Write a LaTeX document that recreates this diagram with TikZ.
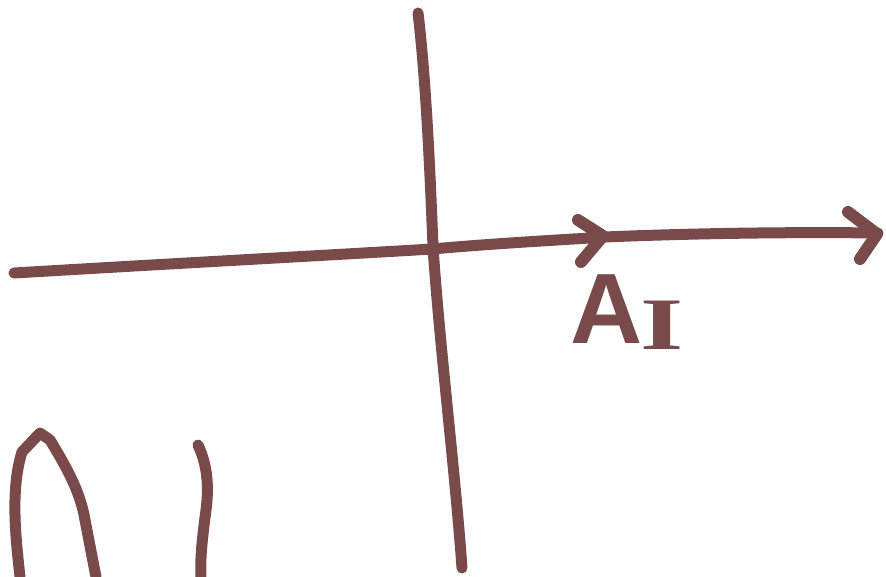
\documentclass[tikz,border=0pt]{standalone}
\usepackage{fontspec}
\setmainfont{Liberation Sans}
\newfontfamily\serifI{Liberation Serif}
\definecolor{ink}{RGB}{122,74,74}
\begin{document}
\begin{tikzpicture}[x=1pt,y=-1pt,
  stroke/.style={draw=ink,line width=11pt,line cap=round,line join=round},
  chevron/.style={draw=ink,line width=12pt,line cap=round,line join=round}]
\useasboundingbox (0,0) rectangle (886,577);
% horizontal axis
\draw[stroke] (14,273) .. controls (200,262) and (350,254) .. (432,249)
  .. controls (500,243) and (560,240) .. (605,237)
  .. controls (700,233) and (800,232) .. (878,233);
% arrowheads
\draw[chevron] (578,220) -- (603,236) -- (581,262);
\draw[chevron] (848,212) -- (877,234) -- (860,259);
% vertical axis
\draw[stroke] (418,13) .. controls (426,80) and (430,170) .. (433,247)
  .. controls (440,350) and (455,470) .. (462,568);
% label
\node[text=ink,font=\bfseries\fontsize{100}{100}\selectfont,inner sep=0pt] (lab) at (607,309) {A};
\node[text=ink,font=\serifI\bfseries\fontsize{74}{74}\selectfont,inner sep=0pt,xscale=1.5] (sub) at (662,325) {I};
% bottom-left arch
\draw[stroke] (20,577) .. controls (16,540) and (10,490) .. (22,452)
  -- (40,433) -- (50,440) .. controls (65,465) and (80,490) .. (85,520)
  -- (96,577);
% bottom small stroke
\draw[stroke] (198,445) .. controls (205,460) and (210,480) .. (206,510)
  .. controls (202,540) and (200,560) .. (201,577);
\end{tikzpicture}
\end{document}
